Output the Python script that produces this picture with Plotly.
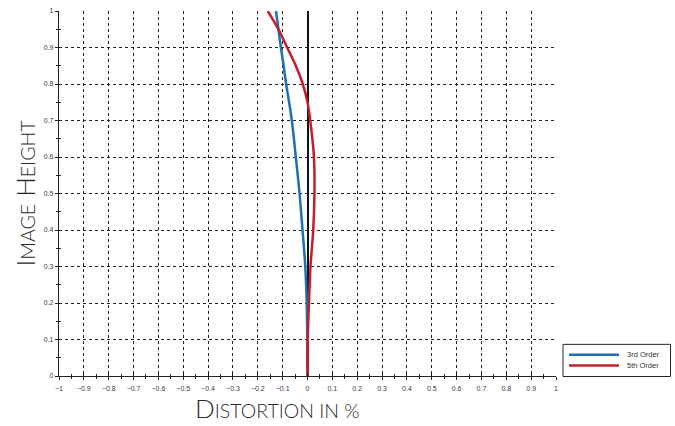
import plotly.graph_objects as go

# Data
image_height = [0.0, 0.1, 0.2, 0.3, 0.4, 0.5, 0.6, 0.7, 0.75, 0.8, 0.85, 0.9, 0.95, 1.0]
third_order = [0.0, -0.001, -0.003, -0.009, -0.020, -0.032, -0.047, -0.063, -0.074, -0.086, -0.096, -0.107, -0.117, -0.127]
fifth_order = [0.0, 0.001, 0.006, 0.012, 0.023, 0.028, 0.026, 0.011, 0.0, -0.019, -0.047, -0.082, -0.117, -0.160]
series_names = ["3rd Order", "5th Order"]
series_colors = ["#1f6fb4", "#c41e2a"]
x_ticks = [round(-1 + 0.1 * i, 1) for i in range(21)]
y_ticks = [round(0.1 * i, 1) for i in range(11)]

W, H = 675, 426
L, R, T, B = 59, 119, 7, 50

fig = go.Figure()
for name, vals, col in zip(series_names, [third_order, fifth_order], series_colors):
    fig.add_trace(go.Scatter(x=vals, y=image_height, mode="lines", name=name,
                             line=dict(color=col, width=2.5, shape="spline"),
                             showlegend=False))

tickfont = dict(family="Liberation Sans, Arial, sans-serif", size=7, color="#3a3a3a")
grid = dict(showgrid=True, gridcolor="#222", gridwidth=1, griddash="3px,3px")

fig.update_layout(
    width=W, height=H, margin=dict(l=L, r=R, t=T, b=B),
    paper_bgcolor="white", plot_bgcolor="white", showlegend=False,
    xaxis=dict(range=[-1, 1], tickvals=x_ticks, ticktext=[("−" if v < 0 else "") + ("%g" % abs(v)) for v in x_ticks],
               ticks="outside", ticklen=3, tickwidth=1, tickcolor="#222",
               showline=True, linecolor="#222", linewidth=1.2,
               zeroline=True, zerolinecolor="#111", zerolinewidth=1.5,
               tickfont=tickfont, ticklabelstandoff=2,
               minor=dict(dtick=0.05, tick0=0, ticks="outside", ticklen=2, tickcolor="#222", showgrid=False),
               **grid),
    yaxis=dict(range=[0, 1], tickvals=y_ticks, ticktext=["%g" % v for v in y_ticks],
               ticks="outside", ticklen=3, tickwidth=1, tickcolor="#222",
               showline=True, linecolor="#222", linewidth=1.2,
               zeroline=False, tickfont=tickfont,
               minor=dict(dtick=0.05, tick0=0, ticks="outside", ticklen=2, tickcolor="#222", showgrid=False),
               **grid),
    xaxis2=dict(range=[-1, 1], overlaying="x", anchor="y", side="bottom", tickvals=x_ticks,
                showticklabels=False, ticks="inside", ticklen=3, tickcolor="#222",
                showgrid=False, zeroline=False,
                minor=dict(dtick=0.05, tick0=0, ticks="inside", ticklen=2, tickcolor="#222")),
    yaxis2=dict(range=[0, 1], overlaying="y", anchor="x", side="left", tickvals=y_ticks,
                showticklabels=False, ticks="inside", ticklen=3, tickcolor="#222",
                showgrid=False, zeroline=False,
                minor=dict(dtick=0.05, tick0=0, ticks="inside", ticklen=2, tickcolor="#222")),
)
# invisible trace to activate the overlay axes
fig.add_trace(go.Scatter(x=[None], y=[None], xaxis="x2", yaxis="y2", showlegend=False, hoverinfo="skip"))

title_font = dict(family="Lato, Open Sans, sans-serif", size=26, color="#2a2a2a", weight=300)
fig.add_annotation(xref="paper", yref="paper", x=(277 - L) / (W - L - R), y=-(408 - (H - B)) / (H - T - B),
                   text="D<span style='font-size:19.5px'>ISTORTION IN %</span>",
                   showarrow=False, font=title_font, xanchor="center", yanchor="middle")
fig.add_annotation(xref="paper", yref="paper", x=-(L - 24) / (W - L - R), y=0.5,
                   text="I<span style='font-size:19.5px'>MAGE</span> H<span style='font-size:19.5px'>EIGHT</span>",
                   showarrow=False, font=title_font, textangle=-90, xanchor="center", yanchor="middle")

# Legend box drawn manually
def fx(p):
    return (p - L) / (W - L - R)
def fy(p):
    return (H - B - p) / (H - T - B)

fig.add_shape(type="rect", xref="paper", yref="paper", x0=fx(563), x1=fx(670.5), y0=fy(376.5), y1=fy(344),
              line=dict(color="#222", width=1), fillcolor="white")
for i, (name, col) in enumerate(zip(series_names, series_colors)):
    yy = 354.5 + 11 * i
    fig.add_shape(type="line", xref="paper", yref="paper", x0=fx(569), x1=fx(619), y0=fy(yy), y1=fy(yy),
                  line=dict(color=col, width=2.5))
    fig.add_annotation(xref="paper", yref="paper", x=fx(625), y=fy(yy), text=name, showarrow=False,
                       xanchor="left", yanchor="middle",
                       font=dict(family="Liberation Sans, Arial, sans-serif", size=7.5, color="#333"))

fig.write_html("out.html")
